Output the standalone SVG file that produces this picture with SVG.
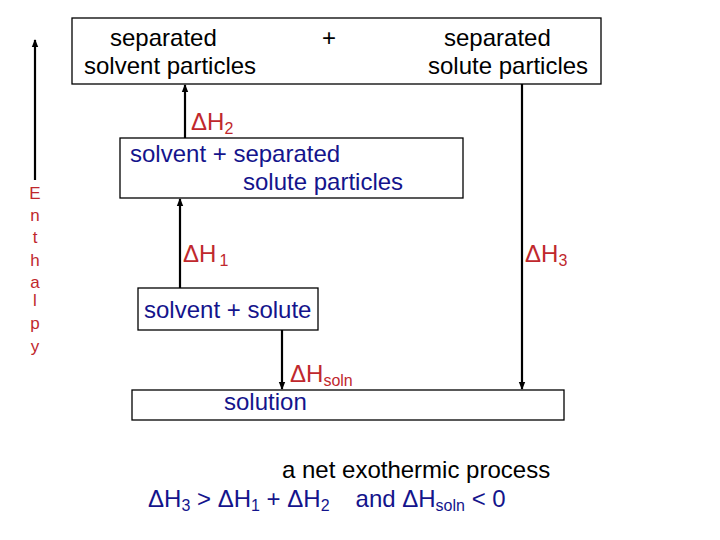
<svg xmlns="http://www.w3.org/2000/svg" width="720" height="540" viewBox="0 0 720 540">
<style>
text{font-family:"Liberation Sans",Arial,sans-serif;font-size:24px}
.k{fill:#000}
.b{fill:#14148c}
.r{fill:#c0282d}
.box{fill:#fff;stroke:#000;stroke-width:1.3}
.ln{stroke:#000;stroke-width:2.2;fill:none}
.sub{font-size:16px}
.e{font-size:17px;text-anchor:middle}
</style>
<defs>
<marker id="ah" markerWidth="8" markerHeight="8" refX="7" refY="4" orient="auto" markerUnits="userSpaceOnUse">
<path d="M0,0.8 L8,4 L0,7.2 Z" fill="#000"/>
</marker>
</defs>
<rect width="720" height="540" fill="#fff"/>
<g id="top">
<rect class="box" x="72" y="18" width="529" height="66"/>
<text class="k" x="110" y="46">separated</text>
<text class="k" x="84" y="74">solvent particles</text>
<text class="k" x="322" y="46">+</text>
<text class="k" x="444" y="46">separated</text>
<text class="k" x="428" y="74">solute particles</text>
</g>
<g id="mid">
<rect class="box" x="120" y="138" width="343" height="60"/>
<text class="b" x="130" y="162">solvent + separated</text>
<text class="b" x="243" y="190">solute particles</text>
</g>
<g id="reactants">
<rect class="box" x="138" y="288" width="180" height="42"/>
<text class="b" x="144" y="318">solvent + solute</text>
</g>
<g id="solution">
<rect class="box" x="132" y="390" width="432" height="30"/>
<text class="b" x="224" y="410">solution</text>
</g>
<g id="connectors">
<line class="ln" x1="35" y1="180" x2="35" y2="40" marker-end="url(#ah)"/>
<line class="ln" x1="185" y1="138" x2="185" y2="85" marker-end="url(#ah)"/>
<line class="ln" x1="180" y1="288" x2="180" y2="199" marker-end="url(#ah)"/>
<line class="ln" x1="282" y1="330" x2="282" y2="389" marker-end="url(#ah)"/>
<line class="ln" x1="522" y1="84" x2="522" y2="389" marker-end="url(#ah)"/>
</g>
<g id="labels">
<text class="r" x="191" y="130">ΔH<tspan class="sub" dy="4">2</tspan></text>
<text class="r" x="183" y="262">ΔH<tspan class="sub" dx="3" dy="4">1</tspan></text>
<text class="r" x="525" y="262">ΔH<tspan class="sub" dy="4">3</tspan></text>
<text class="r" x="290" y="382">ΔH<tspan class="sub" dy="4">soln</tspan></text>
</g>
<g id="enthalpy">
<text class="r e" x="35" y="199">E</text>
<text class="r e" x="35" y="221">n</text>
<text class="r e" x="35" y="243">t</text>
<text class="r e" x="35" y="266">h</text>
<text class="r e" x="35" y="288">a</text>
<text class="r e" x="35" y="306">l</text>
<text class="r e" x="35" y="329">p</text>
<text class="r e" x="35" y="352">y</text>
</g>
<g id="caption">
<text class="k" x="282" y="478">a net exothermic process</text>
<text class="b" x="148" y="507">ΔH<tspan class="sub" dy="4">3</tspan><tspan dy="-4"> &gt; ΔH</tspan><tspan class="sub" dy="4">1</tspan><tspan dy="-4"> + ΔH</tspan><tspan class="sub" dy="4">2</tspan><tspan dy="-4" dx="26">and ΔH</tspan><tspan class="sub" dy="4">soln</tspan><tspan dy="-4"> &lt; 0</tspan></text>
</g>
</svg>
